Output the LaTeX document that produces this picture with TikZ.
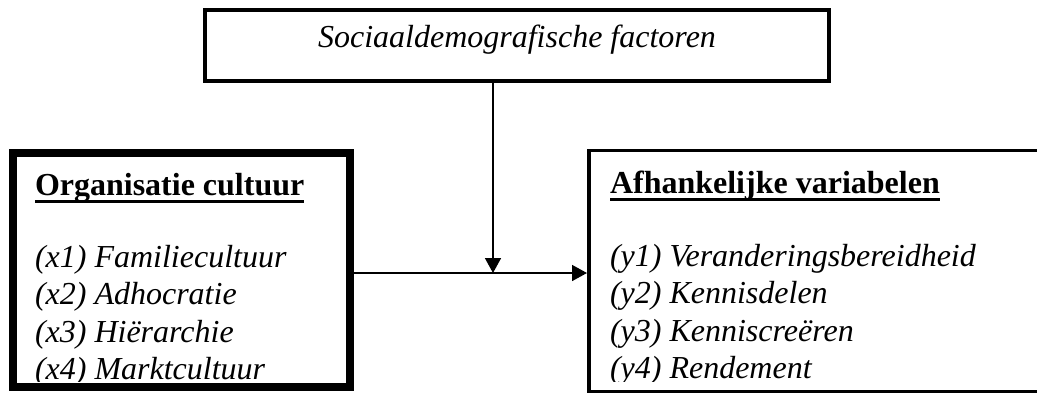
\documentclass[tikz,border=0pt]{standalone}
\usepackage{fontspec}
\setmainfont{Liberation Serif}
\usetikzlibrary{arrows.meta}

\begin{document}
\begin{tikzpicture}[x=1pt,y=-1pt,
  box/.style={draw=black,fill=white,rectangle,inner sep=0pt,outer sep=0pt},
  lbl/.style={inner sep=0pt,outer sep=0pt,anchor=base west,font=\fontsize{32}{37.5}\selectfont\itshape},
  head/.style={inner sep=0pt,outer sep=0pt,anchor=base west,font=\fontsize{32}{37.5}\selectfont\bfseries},
  link/.style={line width=1.6pt,-{Triangle[length=15pt,width=16pt]}},
  uline/.style={line width=2.6pt}]
\useasboundingbox (0,0) rectangle (1037,392);
\clip (0,0) rectangle (1037,392);

% the three blocks
\node[box,line width=4pt,minimum width=624pt,minimum height=71pt] (soc) at (517,45) {};
\node[box,line width=8pt,minimum width=337pt,minimum height=234pt] (org) at (181.5,270) {};
\node[box,line width=3.5pt,minimum width=531pt,minimum height=241pt] (afh) at (854.5,271) {};

% junction of the two connectors
\coordinate (mid) at (493,273);

% connectors
\draw[link,shorten >=2pt] (org.east |- mid) -- (afh.west |- mid);
\draw[link] (soc.south -| mid) -- (mid);

% title of the top block
\node[inner sep=0pt,anchor=base,font=\fontsize{32}{37.5}\selectfont\itshape] (soctxt) at (517,47) {Sociaaldemografische factoren};

% headings
\node[head] (orghead) at (35,195) {Organisatie cultuur};
\draw[uline] ([yshift=-6.5pt]orghead.base west) -- ([yshift=-6.5pt]orghead.base east);
\node[head] (afhhead) at (610,193) {Afhankelijke variabelen};
\draw[uline] ([yshift=-6.5pt]afhhead.base west) -- ([yshift=-6.5pt]afhhead.base east);

% item lists, cut off at the bottom of the blocks
\begin{scope}
\clip (0,0) rectangle (1037,381);
\node[lbl] (x1) at (35,267) {(x1) Familiecultuur};
\node[lbl] (x2) at (35,304.5) {(x2) Adhocratie};
\node[lbl] (x3) at (35,342) {(x3) Hiërarchie};
\node[lbl] (x4) at (35,379.5) {(x4) Marktcultuur};
\node[lbl] (y1) at (610,266) {(y1) Veranderingsbereidheid};
\node[lbl] (y2) at (610,303.5) {(y2) Kennisdelen};
\node[lbl] (y3) at (610,341) {(y3) Kenniscreëren};
\node[lbl] (y4) at (610,378.5) {(y4) Rendement};
\end{scope}
\end{tikzpicture}
\end{document}
